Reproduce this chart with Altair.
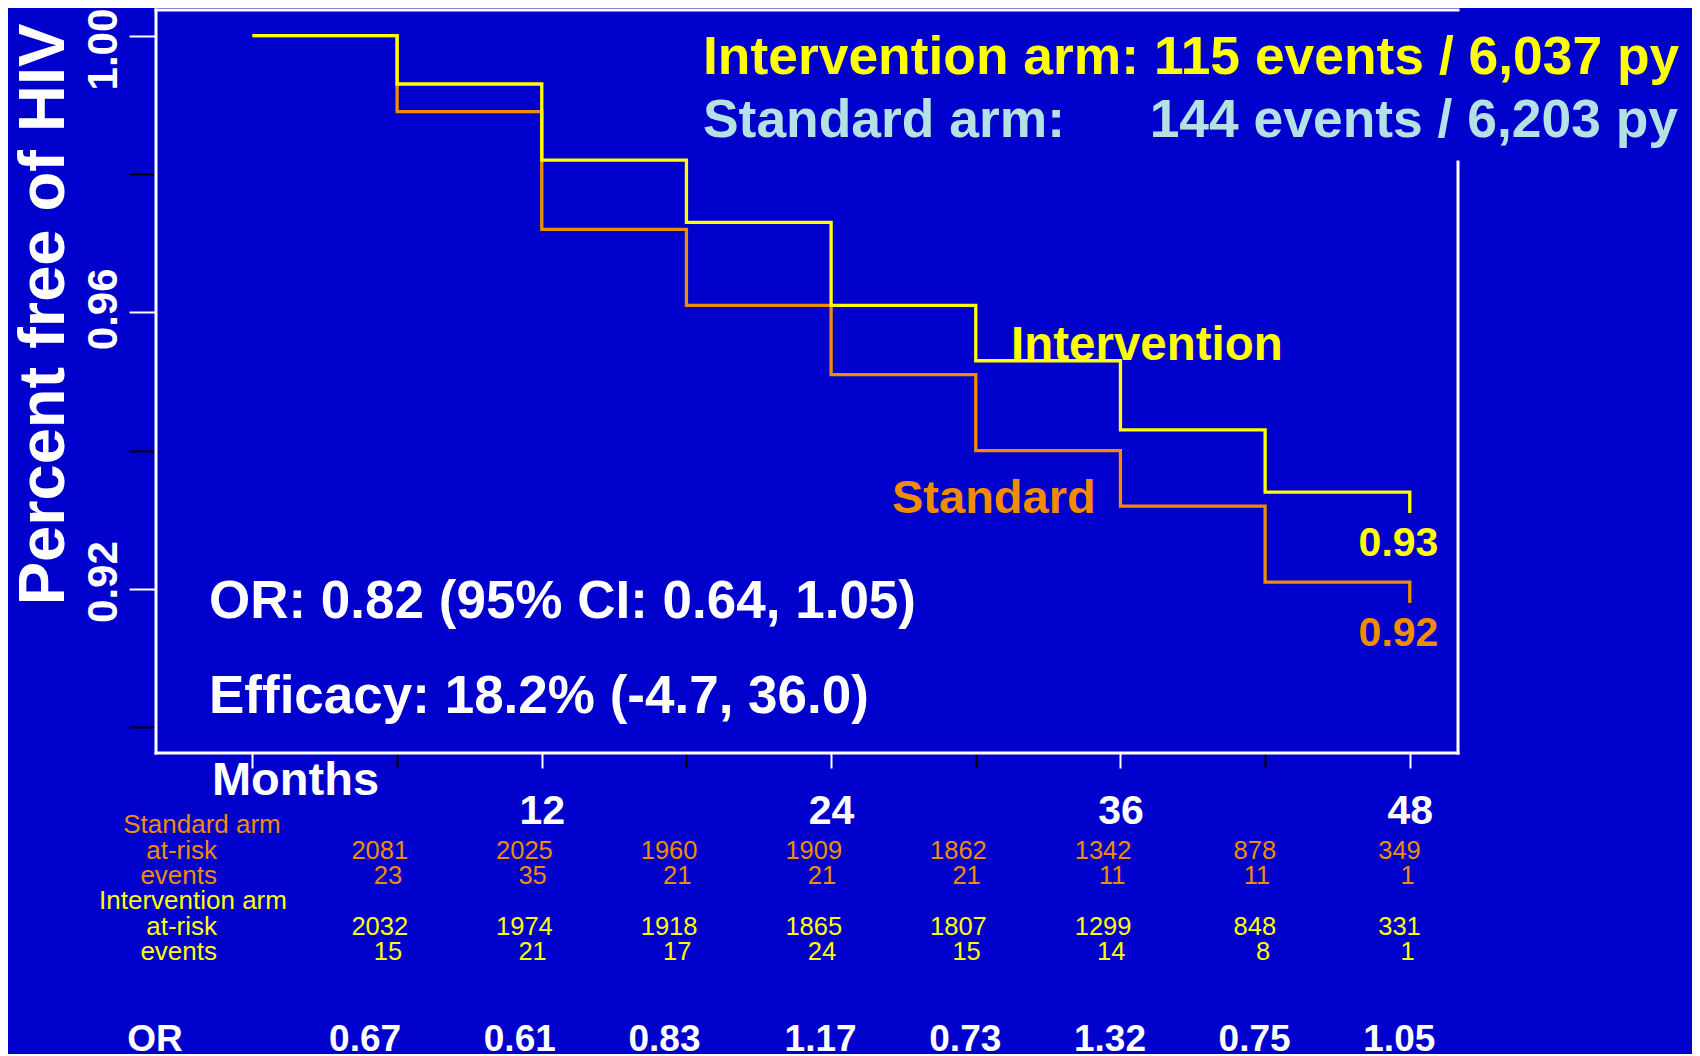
import altair as alt
import pandas as pd

# ---------------- data ----------------
months = [0, 6, 12, 18, 24, 30, 36, 42, 48]
surv_intervention = [1.000, 0.993, 0.982, 0.973, 0.961, 0.953, 0.943, 0.934, 0.931]
surv_standard = [1.000, 0.989, 0.972, 0.961, 0.951, 0.940, 0.932, 0.921, 0.918]

table_months = [6, 12, 18, 24, 30, 36, 42, 48]
std_at_risk = ["2081", "2025", "1960", "1909", "1862", "1342", "878", "349"]
std_events = ["23", "35", "21", "21", "21", "11", "11", "1"]
int_at_risk = ["2032", "1974", "1918", "1865", "1807", "1299", "848", "331"]
int_events = ["15", "21", "17", "24", "15", "14", "8", "1"]
or_values = ["0.67", "0.61", "0.83", "1.17", "0.73", "1.32", "0.75", "1.05"]

x_ticks = [0, 6, 12, 18, 24, 30, 36, 42, 48]
y_ticks = [0.90, 0.92, 0.94, 0.96, 0.98, 1.00]
y_labels = [1.00, 0.96, 0.92]

legend_int = "Intervention arm: 115 events / 6,037 py"
legend_std_a = "Standard arm:"
legend_std_b = "144 events / 6,203 py"
label_int = "Intervention"
label_std = "Standard"
final_int = "0.93"
final_std = "0.92"
or_text = "OR: 0.82 (95% CI: 0.64, 1.05)"
eff_text = "Efficacy: 18.2% (-4.7, 36.0)"
row_labels = ["Standard arm", "at-risk", "events", "Intervention arm", "at-risk", "events", "OR"]

# ---------------- style ----------------
FONT = "Liberation Sans"
BG = "#0000CC"
YELLOW = "#FFFF00"
ORANGE = "#F08C00"
LIGHT = "#B4E1E4"
WHITE = "#FFFFFF"
W, H = 1302, 743

xs = alt.Scale(domain=[-4, 50], nice=False, zero=False)
ys = alt.Scale(domain=[0.8963, 1.0037], nice=False, zero=False)

curve_int = pd.DataFrame({"month": months, "surv": surv_intervention})
curve_std = pd.DataFrame({"month": months, "surv": surv_standard})

x_axis = alt.Axis(
    values=x_ticks, grid=False, domain=False,
    tickSize=15, tickWidth=2,
    tickColor={"condition": {"test": "datum.value % 12 === 0", "value": WHITE}, "value": "black"},
    labelExpr="(datum.value % 12 === 0 && datum.value > 0) ? datum.label : ''",
    labelFont=FONT, labelFontSize=41, labelFontWeight="bold", labelColor=WHITE,
    labelBaseline="alphabetic", labelPadding=55, labelFlush=False,
    title="Months", titleFont=FONT, titleFontSize=47, titleFontWeight="bold",
    titleColor=WHITE, titleX=139, titleY=41, titleAlign="center", titleBaseline="alphabetic",
)
y_axis = alt.Axis(
    values=y_ticks, grid=False, domain=False, labels=False,
    tickSize=27, tickWidth=2,
    tickColor={"condition": {"test": "round(datum.value*100) % 4 === 0", "value": WHITE}, "value": "black"},
    title="Percent free of HIV", titleFont=FONT, titleFontSize=65, titleFontWeight="bold",
    titleColor=WHITE, titleAngle=270, titleX=-93, titleY=304, titleAlign="center",
    titleBaseline="alphabetic",
)

line_std = alt.Chart(curve_std).mark_line(
    interpolate="step-after", color=ORANGE, strokeWidth=3.3
).encode(
    x=alt.X("month:Q", scale=xs, axis=x_axis),
    y=alt.Y("surv:Q", scale=ys, axis=y_axis),
)
line_int = alt.Chart(curve_int).mark_line(
    interpolate="step-after", color=YELLOW, strokeWidth=3.3
).encode(
    x=alt.X("month:Q", scale=xs),
    y=alt.Y("surv:Q", scale=ys),
)

one = pd.DataFrame({"k": [0]})


def rule(x, x2, y, y2):
    return alt.Chart(one).mark_rule(color=WHITE, strokeWidth=3, strokeCap="square").encode(
        x=alt.value(x), x2=alt.value(x2), y=alt.value(y), y2=alt.value(y2)
    )


frame = [
    rule(0, W, 0, 0),
    rule(0, W, H, H),
    rule(0, 0, 0, H),
    rule(W, W, 152, H),
]


# rotated y tick labels (each nudged along the axis as in the original)
def ylab(test, dx):
    return alt.Chart(pd.DataFrame({"v": y_labels})).transform_filter(test).mark_text(
        angle=270, align="center", baseline="alphabetic", color=WHITE, fontSize=42,
        fontWeight="bold", font=FONT, dx=dx
    ).encode(
        x=alt.value(-39),
        y=alt.Y("v:Q", scale=ys),
        text=alt.Text("v:Q", format=".2f"),
    )


ylabels = [
    ylab("datum.v > 0.99", -14),
    ylab("datum.v > 0.95 && datum.v < 0.99", 3),
    ylab("datum.v < 0.95", 7),
]


def label(text, x, y, color, size, weight="bold", align="left"):
    return alt.Chart(pd.DataFrame({"t": [text]})).mark_text(
        align=align, baseline="alphabetic", color=color, fontSize=size,
        fontWeight=weight, font=FONT
    ).encode(x=alt.value(x), y=alt.value(y), text="t:N")


notes = [
    label(legend_int, 547, 64, YELLOW, 53.4),
    label(legend_std_a, 547, 127, LIGHT, 53.4),
    label(legend_std_b, 1522, 127, LIGHT, 53.4, align="right"),
    label(label_int, 855, 350, YELLOW, 47.5),
    label(label_std, 736, 503, ORANGE, 47),
    label(final_int, 1242.5, 546, YELLOW, 41, align="center"),
    label(final_std, 1242.5, 636, ORANGE, 41, align="center"),
    label(or_text, 53, 608, WHITE, 53),
    label(eff_text, 53, 703, WHITE, 53),
    label(row_labels[0], 46, 823, ORANGE, 26, weight="normal", align="center"),
    label(row_labels[1], 61, 849, ORANGE, 26, weight="normal", align="right"),
    label(row_labels[2], 61, 874, ORANGE, 26, weight="normal", align="right"),
    label(row_labels[3], 37, 899, YELLOW, 26, weight="normal", align="center"),
    label(row_labels[4], 61, 925, YELLOW, 26, weight="normal", align="right"),
    label(row_labels[5], 61, 950, YELLOW, 26, weight="normal", align="right"),
    label(row_labels[6], -1, 1041, WHITE, 37, align="center"),
]


def row(values, y, color, dx, size=25.5, weight="normal", align="right", keep=None):
    df = pd.DataFrame({"month": table_months, "t": values})
    ch = alt.Chart(df)
    if keep is not None:
        ch = ch.transform_filter(keep)
    return ch.mark_text(
        align=align, baseline="alphabetic", color=color, fontSize=size,
        fontWeight=weight, font=FONT, dx=dx
    ).encode(
        x=alt.X("month:Q", scale=xs),
        y=alt.value(y),
        text="t:N",
    )


rows = [
    row(std_at_risk, 849, ORANGE, 11),
    row(std_events, 874, ORANGE, 5),
    row(int_at_risk, 925, YELLOW, 11),
    row(int_events, 950, YELLOW, 5),
    row(or_values, 1041, WHITE, -32, size=37, weight="bold", align="center",
        keep="datum.month < 9"),
    row(or_values, 1041, WHITE, -22, size=37, weight="bold", align="center",
        keep="datum.month > 9 && datum.month < 21"),
    row(or_values, 1041, WHITE, -10.5, size=37, weight="bold", align="center",
        keep="datum.month > 21"),
]

chart = alt.layer(line_std, line_int, *frame, *ylabels, *notes, *rows).properties(
    width=W, height=H, background=BG,
    padding={"left": 148, "top": 2, "right": 234, "bottom": 301},
    autosize=alt.AutoSizeParams(type="none"),
).configure_view(stroke=None)

chart.save("out.html", embed_options={"renderer": "svg", "actions": False})
